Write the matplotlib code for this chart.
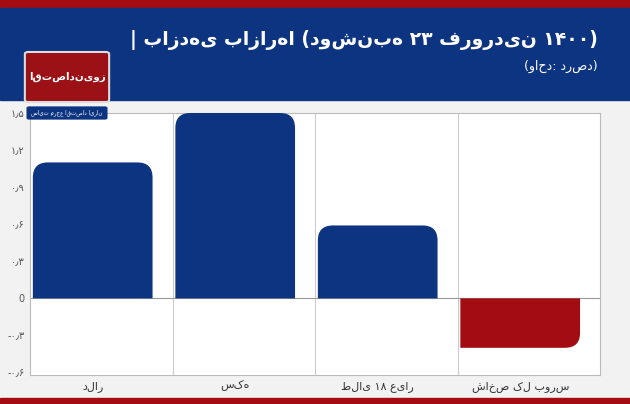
import matplotlib.pyplot as plt
from matplotlib.path import Path
from matplotlib.patches import PathPatch, FancyBboxPatch

plt.rcParams['font.family'] = ['DejaVu Sans']

categories = ['دلار', 'سکه', 'طلای ۱۸ عیار', 'شاخص کل بورس']
values = [1.10, 1.50, 0.59, -0.40]
yticks = [-0.6, -0.3, 0, 0.3, 0.6, 0.9, 1.2, 1.5]
title = '| بازدهی بازارها (دوشنبه ۲۳ فروردین ۱۴۰۰)'
subtitle = '(واحد: درصد)'

FA = str.maketrans('0123456789.-', '۰۱۲۳۴۵۶۷۸۹٫-')


def fmt(v):
    if v == 0:
        return '0'
    s = ('%.1f' % abs(v)).translate(FA)
    return ('-' if v < 0 else '') + s


fig = plt.figure(figsize=(6.3, 4.04), dpi=100)
fig.patch.set_facecolor('#f2f2f2')
W, H = 630, 404

# header bands
fig.patches.append(plt.Rectangle((0, 1 - 8 / H), 1, 8 / H, transform=fig.transFigure, color='#a30d12'))
fig.patches.append(plt.Rectangle((0, 1 - 100 / H), 1, 92 / H, transform=fig.transFigure, color='#0c3480'))
fig.patches.append(plt.Rectangle((0, 0), 1, 6 / H, transform=fig.transFigure, color='#a30d12'))
# logo
fig.patches.append(FancyBboxPatch((28 / W, 1 - 100 / H), 78 / W, 46 / H, boxstyle='round,pad=0.005',
                                  transform=fig.transFigure, fc='#9b1116', ec='#dddddd', lw=1.5))
fig.patches.append(FancyBboxPatch((29 / W, 1 - 118 / H), 76 / W, 10 / H, boxstyle='round,pad=0.004',
                                  transform=fig.transFigure, fc='#0c3480', ec='none'))
fig.text(67 / W, 1 - 77 / H, 'اقتصادنیوز', color='white', fontsize=7.5, fontweight='bold',
         ha='center', va='center')
fig.text(67 / W, 1 - 113 / H, 'سایت مرجع اقتصاد ایران', color='white', fontsize=4,
         ha='center', va='center')

fig.text(598 / W, 1 - 40 / H, title, color='white', fontsize=13.5, fontweight='bold',
         ha='right', va='center')
fig.text(598 / W, 1 - 66 / H, subtitle, color='white', fontsize=9, ha='right', va='center')

ax = fig.add_axes([30 / W, 1 - 375 / H, 570 / W, 262 / H])
ax.set_facecolor('white')
ax.set_xlim(0, 4)
ax.set_ylim(-0.62, 1.5)
n = len(categories)
ax.set_xticks([i + 0.44 for i in range(n)])
ax.set_xticklabels(categories, fontsize=8, color='#333333')
ax.set_yticks(yticks)
ax.set_yticklabels([fmt(v) for v in yticks], fontsize=7, color='#555555')
ax.tick_params(length=0, pad=4)
for x in range(1, n):
    ax.axvline(x, color='#cccccc', lw=0.8)
ax.axhline(0, color='#999999', lw=0.8)
for s in ax.spines.values():
    s.set_color('#bbbbbb')

# rounded-top bars
xpx = 570 / 4
ypx = 262 / 2.12
r = 15
rx, ry = r / xpx, r / ypx
for i, v in enumerate(values):
    x0, x1 = i + 0.02, i + 0.86
    t = v
    if v >= 0:
        verts = [(x0, 0), (x0, t - ry), (x0, t), (x0 + rx, t), (x1 - rx, t),
                 (x1, t), (x1, t - ry), (x1, 0), (x0, 0)]
        codes = [Path.MOVETO, Path.LINETO, Path.CURVE3, Path.CURVE3, Path.LINETO,
                 Path.CURVE3, Path.CURVE3, Path.LINETO, Path.CLOSEPOLY]
        color = '#0c3480'
    else:
        verts = [(x0, 0), (x0, t), (x1 - rx, t), (x1, t), (x1, t + ry), (x1, 0), (x0, 0)]
        codes = [Path.MOVETO, Path.LINETO, Path.LINETO, Path.CURVE3, Path.CURVE3,
                 Path.LINETO, Path.CLOSEPOLY]
        color = '#a30d12'
    ax.add_patch(PathPatch(Path(verts, codes), fc=color, ec='none', zorder=3))

fig.savefig('out.png', dpi=100, facecolor=fig.get_facecolor())
